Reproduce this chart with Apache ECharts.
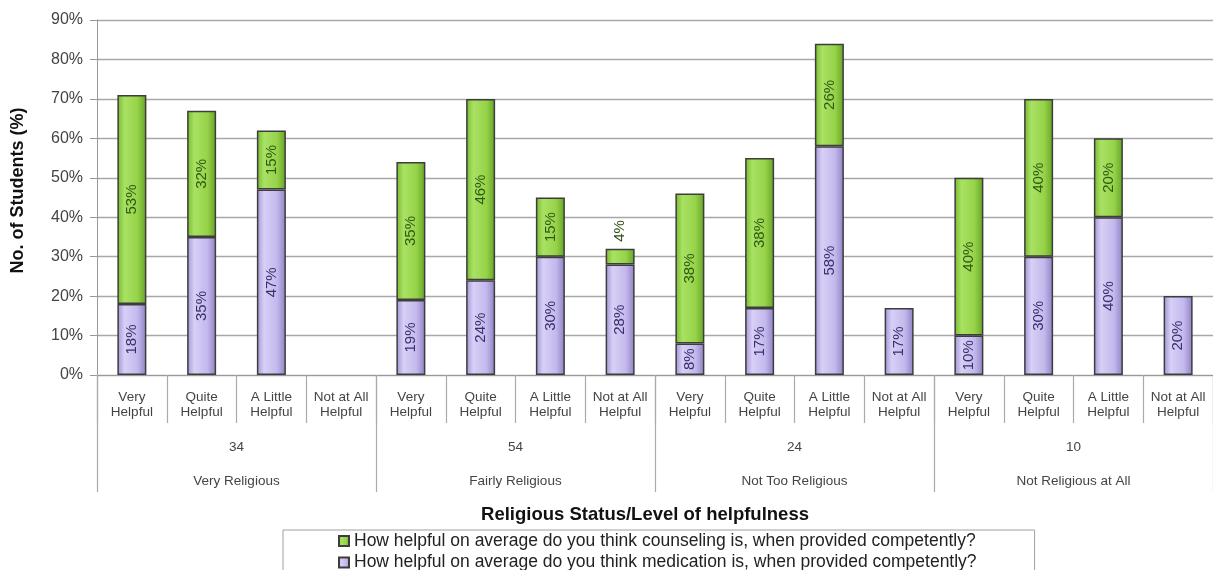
<!DOCTYPE html>
<html>
<head>
<meta charset="utf-8">
<script src="https://cdn.jsdelivr.net/npm/echarts@6/dist/echarts.min.js"></script>
<style>
html,body{margin:0;padding:0;background:#fff;}
#chart{width:1213px;height:570px;}
</style>
</head>
<body>
<div id="chart"></div>
<script>
// ---- data ----
var subCategories = ['Very\nHelpful', 'Quite\nHelpful', 'A Little\nHelpful', 'Not at All\nHelpful'];
var groupCounts = ['34', '54', '24', '10'];
var groupNames = ['Very Religious', 'Fairly Religious', 'Not Too Religious', 'Not Religious at All'];
var medication = [18, 35, 47, 0, 19, 24, 30, 28, 8, 17, 58, 17, 10, 30, 40, 20];
var counseling = [53, 32, 15, 0, 35, 46, 15, 4, 38, 38, 26, 0, 40, 40, 20, 0];
var yTicks = [0, 10, 20, 30, 40, 50, 60, 70, 80, 90];
var seriesNames = [
  'How helpful on average do you think counseling is, when provided competently?',
  'How helpful on average do you think medication is, when provided competently?'
];
var axisNames = ['No. of Students (%)', 'Religious Status/Level of helpfulness'];

// ---- build ----
var categories = [];
groupNames.forEach(function () {
  subCategories.forEach(function (s) { categories.push(s); });
});
var groupLabels = groupNames.map(function (g, i) { return groupCounts[i] + '\n' + g; });

var FONT = 'Arial, "Liberation Sans", sans-serif';

function grad(stops) {
  return new echarts.graphic.LinearGradient(0, 0, 1, 0, stops.map(function (c) {
    return { offset: c[0], color: c[1] };
  }));
}
var greenFill = grad([[0, '#78b82e'], [0.25, '#a9e263'], [0.7, '#96d249'], [1, '#65a324']]);
var purpleFill = grad([[0, '#a393d6'], [0.25, '#d8d0f6'], [0.7, '#c3b8ec'], [1, '#8f80c4']]);

function buildData(values, outsideSmall, labelColor) {
  return values.map(function (v) {
    if (!v) return null;
    var item = { value: v };
    if (outsideSmall && v < 6) {
      item.label = {
        position: 'top', distance: 7, rotate: 90,
        align: 'left', verticalAlign: 'middle', color: labelColor
      };
    }
    return item;
  });
}

var chart = echarts.init(document.getElementById('chart'), null, { renderer: 'canvas' });
chart.setOption({
  animation: false,
  backgroundColor: '#ffffff',
  textStyle: { fontFamily: FONT },
  grid: { left: 97, top: 20, width: 1120, height: 355, containLabel: false },
  legend: {
    type: 'plain',
    orient: 'vertical',
    left: 283,
    top: 530,
    height: 80,
    padding: [2, 58, 20, 55],
    itemGap: 3.5,
    itemWidth: 10,
    itemHeight: 10,
    borderColor: '#a0a0a0',
    borderWidth: 1,
    borderRadius: 0,
    backgroundColor: '#ffffff',
    data: [
      { name: seriesNames[0], icon: 'rect' },
      { name: seriesNames[1], icon: 'rect' }
    ],
    textStyle: { fontFamily: FONT, fontSize: 17.5, color: '#222' }
  },
  xAxis: [
    {
      type: 'category',
      data: categories,
      gridIndex: 0,
      position: 'bottom',
      axisLine: { show: true, lineStyle: { color: '#999', width: 1 } },
      axisTick: { show: true, interval: 0, length: 48, lineStyle: { color: '#aaa', width: 1.2 } },
      axisLabel: {
        interval: 0, margin: 15, fontSize: 13.5, lineHeight: 15,
        color: '#444', fontFamily: FONT
      },
      splitLine: { show: false }
    },
    {
      type: 'category',
      data: groupLabels,
      gridIndex: 0,
      position: 'bottom',
      offset: 0,
      axisLine: { show: false },
      axisTick: { show: true, interval: 0, length: 117, lineStyle: { color: '#aaa', width: 1.2 } },
      axisLabel: {
        interval: 0, margin: 55, fontSize: 13.5, lineHeight: 34,
        color: '#444', fontFamily: FONT
      },
      name: axisNames[1],
      nameLocation: 'middle',
      nameGap: 130,
      nameTextStyle: {
        fontSize: 18.5, fontWeight: 'bold', color: '#111', fontFamily: FONT,
        padding: [0, 20, 0, 0]
      }
    }
  ],
  yAxis: {
    type: 'value',
    min: yTicks[0],
    max: yTicks[yTicks.length - 1],
    interval: yTicks[1] - yTicks[0],
    name: axisNames[0],
    nameLocation: 'middle',
    nameGap: 70,
    nameRotate: 90,
    nameTextStyle: {
      fontSize: 18, fontWeight: 'bold', color: '#111', fontFamily: FONT,
      padding: [0, 0, 0, 14]
    },
    axisLine: { show: true, lineStyle: { color: '#999', width: 1 } },
    axisTick: { show: true, length: 7, lineStyle: { color: '#999' } },
    axisLabel: { formatter: '{value}%', fontSize: 16, color: '#444', margin: 14, fontFamily: FONT },
    splitLine: { show: true, lineStyle: { color: '#a8a8a8', width: 1.3 } }
  },
  series: [
    {
      name: seriesNames[1],
      type: 'bar',
      stack: 'total',
      xAxisIndex: 0,
      barWidth: 29,
      data: buildData(medication, false, '#3a2e6e'),
      itemStyle: { color: purpleFill, borderColor: '#3d3d3d', borderWidth: 1.5 },
      label: {
        show: true, position: 'inside', rotate: 90, formatter: '{c}%',
        fontSize: 15, color: '#3a2e6e', fontFamily: FONT
      }
    },
    {
      name: seriesNames[0],
      type: 'bar',
      stack: 'total',
      xAxisIndex: 0,
      barWidth: 29,
      data: buildData(counseling, true, '#2d4f14'),
      itemStyle: { color: greenFill, borderColor: '#3d3d3d', borderWidth: 1.5 },
      label: {
        show: true, position: 'inside', rotate: 90, formatter: '{c}%',
        fontSize: 15, color: '#2d5a12', fontFamily: FONT
      }
    }
  ]
});
</script>
</body>
</html>
